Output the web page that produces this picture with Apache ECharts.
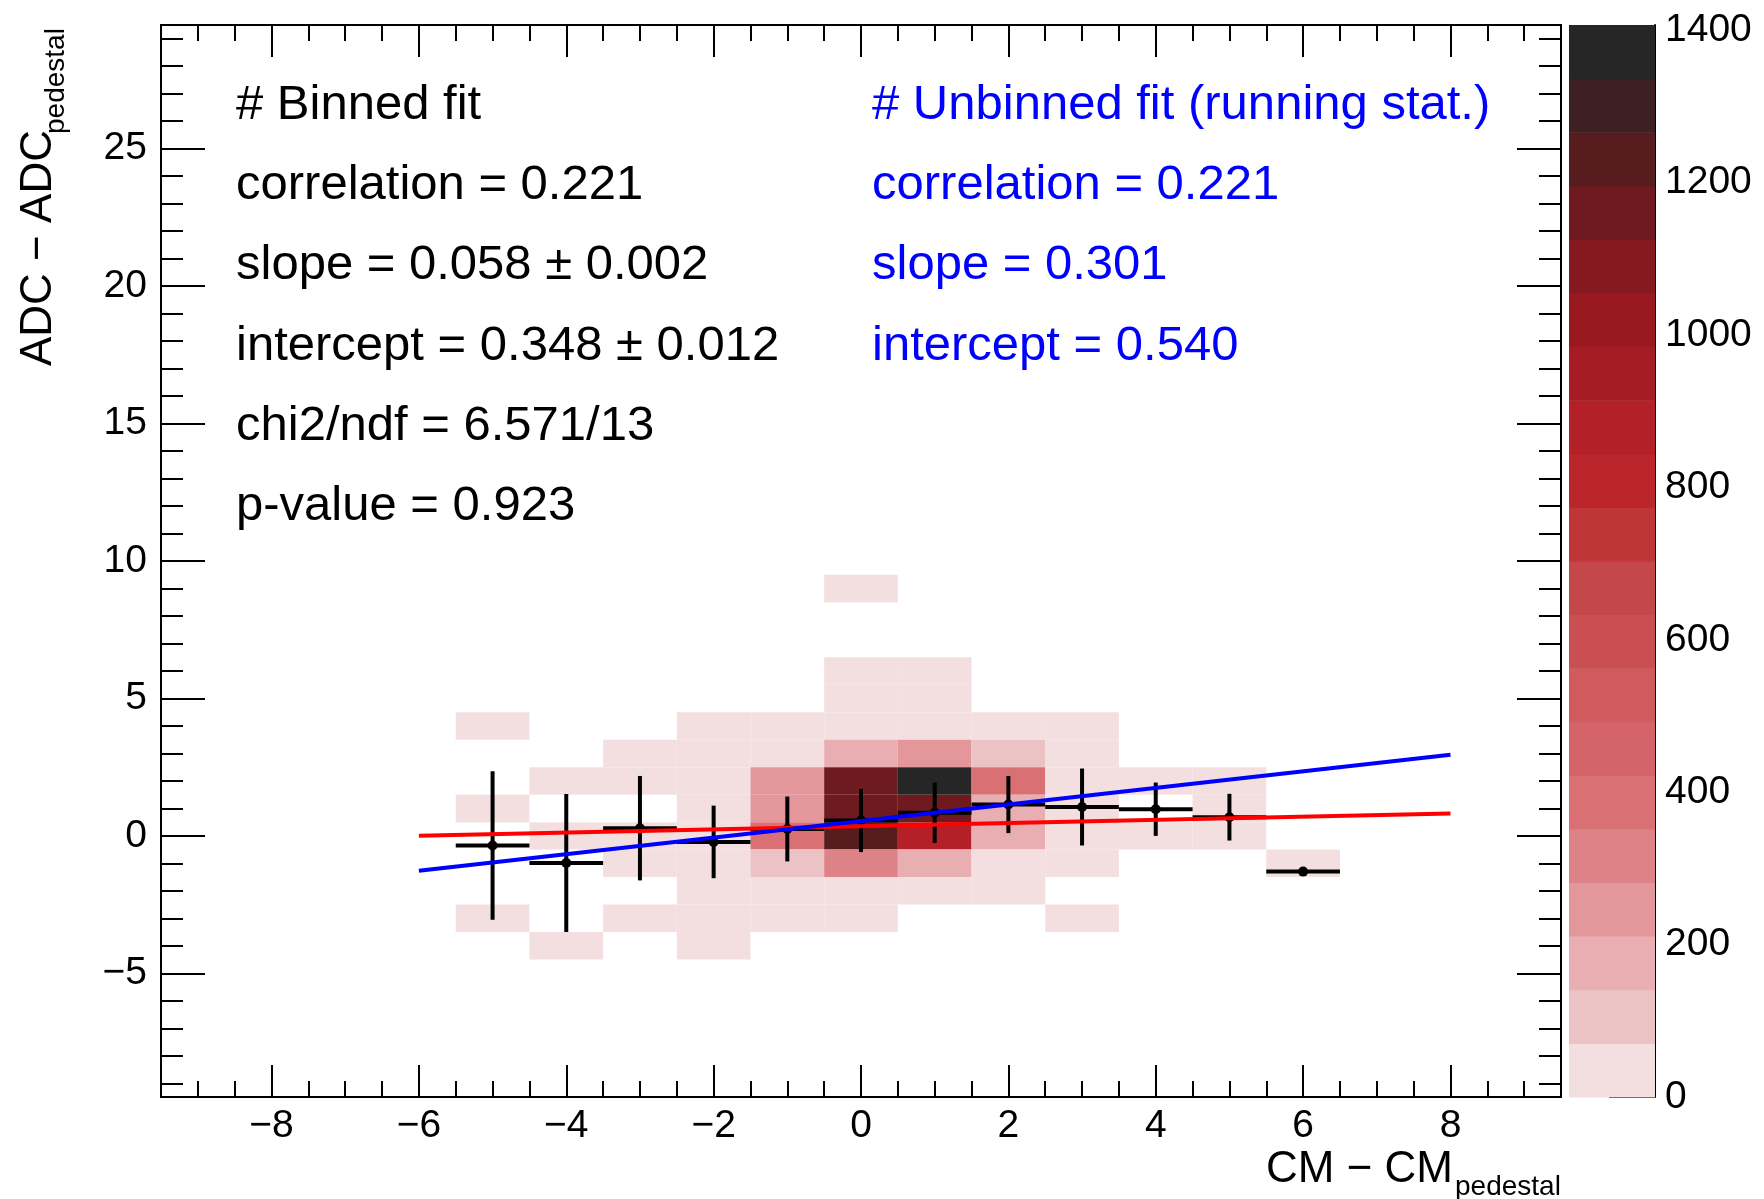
<!DOCTYPE html>
<html>
<head>
    <meta charset="utf-8"/>
    <title>ADC vs CM</title>
    <script src="https://cdn.jsdelivr.net/npm/echarts@6/dist/echarts.min.js"></script>
    <style>
        body{ margin:0; background:#ffffff; }
        #main{ width:1764px; height:1199px; }
    </style>
</head>
<body>
<div id="main"></div>
<script>
// ---- data ----
// 2D histogram cells: [x bin centre, y bin centre, count]
var cells = [
    [-5, 4, 30], [-5, 1, 30], [-5, -3, 30],
    [-4, 2, 30], [-4, 0, 30], [-4, -4, 30],
    [-3, 3, 30], [-3, 2, 30], [-3, 0, 30], [-3, -1, 30], [-3, -3, 30],
    [-2, 4, 30], [-2, 3, 30], [-2, 2, 30], [-2, 1, 30], [-2, 0, 30], [-2, -1, 30], [-2, -2, 30], [-2, -3, 30], [-2, -4, 30],
    [-1, 4, 30], [-1, 3, 30], [-1, 2, 245], [-1, 1, 245], [-1, 0, 385], [-1, -1, 105], [-1, -2, 30], [-1, -3, 30],
    [0, 9, 30], [0, 6, 30], [0, 5, 30], [0, 4, 30], [0, 3, 175], [0, 2, 1160], [0, 1, 1160], [0, 0, 1230], [0, -1, 315], [0, -2, 30], [0, -3, 30],
    [1, 6, 30], [1, 5, 30], [1, 4, 30], [1, 3, 245], [1, 2, 1370], [1, 1, 1160], [1, 0, 880], [1, -1, 175], [1, -2, 30],
    [2, 4, 30], [2, 3, 105], [2, 2, 385], [2, 1, 175], [2, 0, 175], [2, -1, 30], [2, -2, 30],
    [3, 4, 30], [3, 3, 30], [3, 2, 30], [3, 1, 30], [3, 0, 30], [3, -1, 30], [3, -3, 30],
    [4, 2, 30], [4, 0, 30],
    [5, 2, 30], [5, 1, 30], [5, 0, 30],
    [6, -1, 30]
];

// profile (mean per x bin with error)
var profX    = [-5, -4, -3, -2, -1, 0, 1, 2, 3, 4, 5, 6];
var profMean = [-0.35, -0.99, 0.28, -0.22, 0.25, 0.56, 0.84, 1.14, 1.05, 0.97, 0.68, -1.30];
var profErr  = [2.70, 2.51, 1.90, 1.32, 1.18, 1.15, 1.10, 1.04, 1.40, 0.97, 0.85, 0];

// fit lines (end points)
var binnedFit   = [[-6, 0.0], [8, 0.81]];
var unbinnedFit = [[-6, -1.27], [8, 2.95]];

// axis ticks
var xMajor = [-8, -6, -4, -2, 0, 2, 4, 6, 8];
var yMajor = [-5, 0, 5, 10, 15, 20, 25];
var zTicks = [0, 200, 400, 600, 800, 1000, 1200, 1400];
var zMax = 1407;

// colour palette, low -> high
var palette = ['#f3dfe0','#ecc3c5','#e8aeb1','#e3979b','#dd8286','#d97074','#d5646a','#d05a5e','#c94f52','#c4474a',
               '#bf3538','#bb262d','#b32028','#a51c24','#9a1920','#841a1f','#6e1a1e','#561c1e','#3d2021','#262626'];

var binnedText = ['# Binned fit', 'correlation = 0.221', 'slope = 0.058 \u00b1 0.002',
                  'intercept = 0.348 \u00b1 0.012', 'chi2/ndf = 6.571/13', 'p-value = 0.923'];
var unbinnedText = ['# Unbinned fit (running stat.)', 'correlation = 0.221', 'slope = 0.301', 'intercept = 0.540'];

// ---- helpers ----
var FONT = "'Liberation Sans', Arial, Helvetica, sans-serif";
var bandW = zMax / palette.length;

function colorFor(z){
    var i = Math.floor(z / bandW);
    if (i > palette.length - 1) i = palette.length - 1;
    return palette[i];
}
function stepValues(a, b, s){
    var out = [];
    for (var v = a; v <= b + 1e-9; v += s) out.push(Math.round(v * 100) / 100);
    return out;
}
function minus(v){ return String(v).replace('-', '\u2212'); }

var xMinor = stepValues(-9.5, 9.5, 0.5);
var yMinor = stepValues(-9, 29, 1);
var bandStarts = [];
for (var b = 0; b < palette.length; b++) bandStarts.push([b * bandW]);

var tickStyle = {color:'#000', width:2};

function xAxisDef(pos, ticks, len, labels){
    return {
        type:'value', gridIndex:0, position:pos, min:-9.5, max:9.5,
        axisLine:{show:false, onZero:false}, splitLine:{show:false},
        axisTick:{show:true, inside:true, length:len, customValues:ticks, lineStyle:tickStyle},
        axisLabel: labels ? {show:true, customValues:xMajor, margin:10, color:'#000',
            fontFamily:FONT, fontSize:39, formatter:minus} : {show:false}
    };
}
function yAxisDef(pos, ticks, len, labels){
    return {
        type:'value', gridIndex:0, position:pos, min:-9.5, max:29.5,
        axisLine:{show:false, onZero:false}, splitLine:{show:false},
        axisTick:{show:true, inside:true, length:len, customValues:ticks, lineStyle:tickStyle},
        axisLabel: labels ? {show:true, customValues:yMajor, margin:14, color:'#000', padding:[7, 0, 0, 0],
            fontFamily:FONT, fontSize:39, formatter:minus} : {show:false}
    };
}

var graphics = [];
var rowY = [105, 185, 265, 346, 426, 506];
for (var i = 0; i < binnedText.length; i++){
    graphics.push({type:'text', x:236, y:rowY[i], z:100,
        style:{text:binnedText[i], fill:'#000', font:'49px ' + FONT, verticalAlign:'middle'}});
}
for (var j = 0; j < unbinnedText.length; j++){
    graphics.push({type:'text', x:872, y:rowY[j], z:100,
        style:{text:unbinnedText[j], fill:'#0000ff', font:'49px ' + FONT, verticalAlign:'middle'}});
}
// axis titles
graphics.push({type:'text', x:1453, y:1192, z:100,
    style:{text:'CM \u2212 CM', fill:'#000', font:'44px ' + FONT, align:'right', verticalAlign:'bottom'}});
graphics.push({type:'text', x:1455, y:1201, z:100,
    style:{text:'pedestal', fill:'#000', font:'28px ' + FONT, align:'left', verticalAlign:'bottom'}});
graphics.push({type:'text', x:39, y:366, rotation:Math.PI/2, z:100,
    style:{text:'ADC \u2212 ADC', fill:'#000', font:'44px ' + FONT, align:'left', verticalAlign:'middle'}});
graphics.push({type:'text', x:56, y:134, rotation:Math.PI/2, z:100,
    style:{text:'pedestal', fill:'#000', font:'28px ' + FONT, align:'left', verticalAlign:'middle'}});

var profData = profX.map(function(x, k){ return [x, profMean[k], profErr[k]]; });

var chart = echarts.init(document.getElementById('main'));
var option = {
    animation:false,
    backgroundColor:'#ffffff',
    grid:[
        {left:161, top:25, width:1400, height:1072, show:true, borderColor:'#000', borderWidth:2, backgroundColor:'transparent'},
        {left:1569, top:25, width:86, height:1072, show:false}
    ],
    xAxis:[
        xAxisDef('bottom', xMajor, 32, true),
        xAxisDef('bottom', xMinor, 16, false),
        xAxisDef('top', xMajor, 32, false),
        xAxisDef('top', xMinor, 16, false),
        {type:'value', gridIndex:1, min:0, max:1, show:false}
    ],
    yAxis:[
        yAxisDef('left', yMajor, 44, true),
        yAxisDef('left', yMinor, 22, false),
        yAxisDef('right', yMajor, 44, false),
        yAxisDef('right', yMinor, 22, false),
        {
            type:'value', gridIndex:1, position:'right', min:0, max:zMax,
            axisLine:{show:true, onZero:false, lineStyle:{color:'#000', width:2}}, splitLine:{show:false},
            axisTick:{show:true, inside:true, length:46, customValues:zTicks, lineStyle:tickStyle},
            axisLabel:{show:true, customValues:zTicks, margin:10, color:'#000', fontFamily:FONT, fontSize:39,
                formatter:function(v){ return String(v); }}
        }
    ],
    series:[
        {
            type:'custom', xAxisIndex:0, yAxisIndex:0, data:cells, silent:true,
            renderItem:function(params, api){
                var x = api.value(0), y = api.value(1), z = api.value(2);
                var p1 = api.coord([x - 0.5, y + 0.5]);
                var p2 = api.coord([x + 0.5, y - 0.5]);
                return {type:'rect', shape:{x:p1[0], y:p1[1], width:p2[0] - p1[0], height:p2[1] - p1[1]},
                    style:{fill:colorFor(z)}};
            }
        },
        {
            type:'custom', xAxisIndex:0, yAxisIndex:0, data:profData, silent:true,
            renderItem:function(params, api){
                var x = api.value(0), m = api.value(1), e = api.value(2);
                var c = api.coord([x, m]);
                var l = api.coord([x - 0.5, m]);
                var r = api.coord([x + 0.5, m]);
                var t = api.coord([x, m + e]);
                var bt = api.coord([x, m - e]);
                var st = {stroke:'#000', lineWidth:4};
                var kids = [
                    {type:'line', shape:{x1:l[0], y1:l[1], x2:r[0], y2:r[1]}, style:st}
                ];
                if (e > 0) kids.push({type:'line', shape:{x1:t[0], y1:t[1], x2:bt[0], y2:bt[1]}, style:st});
                kids.push({type:'circle', shape:{cx:c[0], cy:c[1], r:5}, style:{fill:'#000'}});
                return {type:'group', children:kids};
            }
        },
        {
            type:'line', xAxisIndex:0, yAxisIndex:0, data:binnedFit, showSymbol:false, silent:true,
            lineStyle:{color:'#ff0000', width:4}
        },
        {
            type:'line', xAxisIndex:0, yAxisIndex:0, data:unbinnedFit, showSymbol:false, silent:true,
            lineStyle:{color:'#0000ff', width:4}
        },
        {
            // colour scale
            type:'custom', xAxisIndex:4, yAxisIndex:4, data:bandStarts, silent:true,
            renderItem:function(params, api){
                var lo = api.value(0);
                var p1 = api.coord([0, lo + bandW]);
                var p2 = api.coord([1, lo]);
                return {type:'rect', shape:{x:p1[0], y:p1[1], width:p2[0] - p1[0], height:p2[1] - p1[1] + 0.5},
                    style:{fill:palette[params.dataIndex]}};
            }
        }
    ],
    graphic:graphics
};
chart.setOption(option);
</script>
</body>
</html>
